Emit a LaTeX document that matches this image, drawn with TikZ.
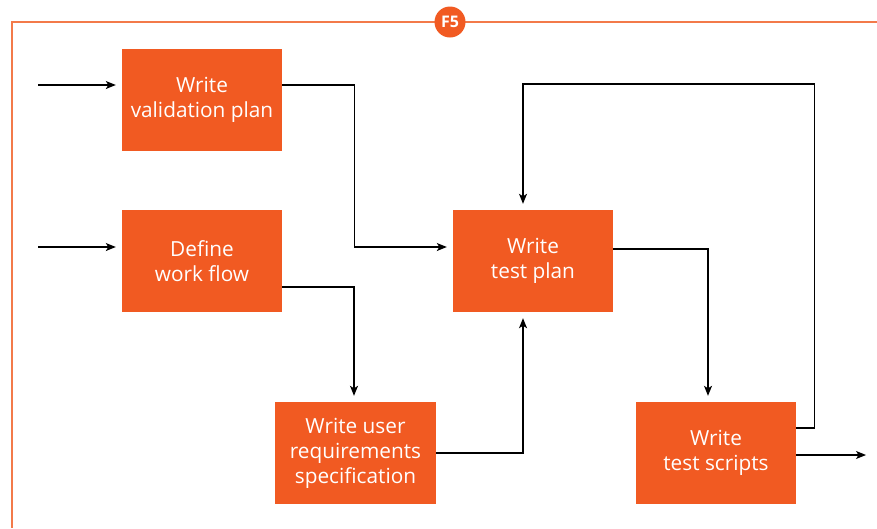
\documentclass[tikz,border=0pt]{standalone}
\usepackage{fontspec}
\setmainfont{Open Sans}
\usetikzlibrary{arrows.meta}
\definecolor{brand}{HTML}{F15A22}
\definecolor{framec}{HTML}{F37A4A}
\tikzset{
  stepbox/.style={fill=brand, draw=none, text=white, minimum width=160pt,
    minimum height=102pt, inner sep=0pt, align=center,
    font=\fontsize{20.8}{25}\selectfont},
  conn/.style={draw=black, line width=1.1pt,
    -{Stealth[length=10pt,width=8pt,inset=2.5pt]}},
  gap/.style={shorten >=6pt}
}
\begin{document}
\begin{tikzpicture}[x=1pt,y=-1pt]
\useasboundingbox (0,0) rectangle (877,528);
% outer frame with badge
\draw[framec, line width=1.5pt] (877,22) -- (12,22) -- (12,528);
\node[circle, fill=brand, minimum size=31pt, inner sep=0pt, text=white,
  font=\fontsize{16}{16}\bfseries] (badge) at (450,22) {F5};
% process steps
\node[stepbox] (vp) at (202,100) {Write\\validation plan};
\node[stepbox] (wf) at (202,261) {Define\\work flow};
\node[stepbox] (tp) at (533,261) {Write\\test plan};
\node[stepbox, minimum width=161pt] (urs) at (355.5,453) {Write user\\requirements\\specification};
\node[stepbox] (ts) at (716,453) {Write\\test scripts};
% free ends
\coordinate (in1) at (38,85);
\coordinate (in2) at (38,247);
\coordinate (out) at (866,455);
% connectors
\draw[conn, gap] (in1) -- (in1 -| vp.west);
\draw[conn, gap] (in2) -- (in2 -| wf.west);
\draw[conn, gap] ([yshift=15pt]vp.east) -- ++(72,0) |- ([yshift=14pt]tp.west);
\draw[conn, gap] ([yshift=-26pt]wf.east) -| ([xshift=-1.5pt]urs.north);
\draw[conn, gap] (urs.east) -| ([xshift=-10pt]tp.south);
\draw[conn, gap] ([yshift=12pt]tp.east) -| ([xshift=-8pt]ts.north);
\draw[conn, gap] ([yshift=25pt]ts.east) -- ++(18,0) -- ++(0,-344) -| ([xshift=-10pt]tp.north);
\draw[conn] ([yshift=-2pt]ts.east) -- (out);
\end{tikzpicture}
\end{document}
